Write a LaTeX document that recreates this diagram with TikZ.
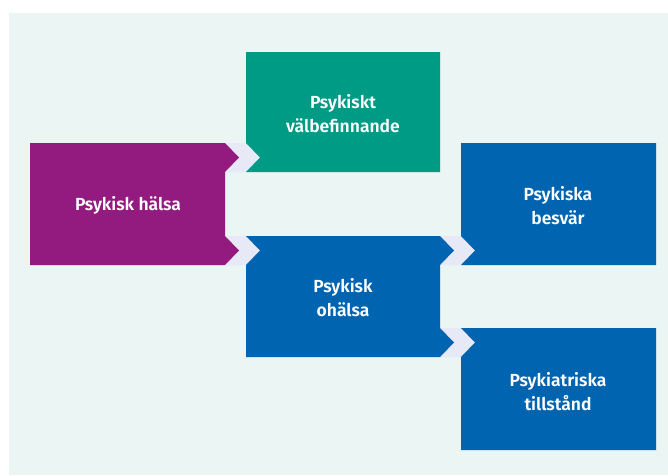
\documentclass[tikz,border=0pt]{standalone}
\usepackage{fontspec}
\setmainfont{Fira Sans}[BoldFont={Fira Sans SemiBold}]
\definecolor{bgmint}{HTML}{EBF5F3}
\definecolor{lav}{HTML}{E8E9F6}
\definecolor{ppurple}{HTML}{931A7E}
\definecolor{pgreen}{HTML}{009B85}
\definecolor{pblue}{HTML}{0064B0}
\tikzset{
  lbl/.style={text=white,font=\fontsize{17.5}{24}\selectfont\bfseries,align=center,inner sep=0pt},
  chev/.style={fill=lav}
}
\begin{document}
\begin{tikzpicture}[x=1pt,y=-1pt]
\useasboundingbox (0,0) rectangle (668,475);
\fill[white] (0,0) rectangle (668,475);
\fill[bgmint] (9,13) rectangle (668,475);
% lavender chevrons
\fill[chev] (225,143)--(246,143)--(260,157.5)--(246,172)--(225,172)--(239,157.5)--cycle;
\fill[chev] (225,236)--(246,236)--(260,250.5)--(246,265)--(225,265)--(239,250.5)--cycle;
\fill[chev] (440,236)--(461,236)--(475,250.5)--(461,265)--(440,265)--(454,250.5)--cycle;
\fill[chev] (440,328)--(461,328)--(475,342.5)--(461,357)--(440,357)--(454,342.5)--cycle;
% boxes
\fill[ppurple] (30,143)--(225,143)--(239,157.5)--(225,172)--(225,236)--(239,250.5)--(225,265)--(30,265)--cycle;
\fill[pgreen] (246,52)--(440,52)--(440,172)--(246,172)--(260,157.5)--(246,143)--cycle;
\fill[pblue] (246,236)--(440,236)--(454,250.5)--(440,265)--(440,328)--(454,342.5)--(440,357)--(246,357)--(246,265)--(260,250.5)--cycle;
\fill[pblue] (461,143)--(656,143)--(656,265)--(461,265)--(475,250.5)--(461,236)--cycle;
\fill[pblue] (461,328)--(656,328)--(656,450)--(461,450)--(461,357)--(475,342.5)--cycle;
% labels
\node[lbl] (halsa) at (128,205) {Psykisk hälsa};
\node[lbl] (valb) at (343,114) {Psykiskt\\välbefinnande};
\node[lbl] (ohalsa) at (343,298) {Psykisk\\ohälsa};
\node[lbl] (besvar) at (558,206) {Psykiska\\besvär};
\node[lbl] (tillst) at (558,392) {Psykiatriska\\tillstånd};
\end{tikzpicture}
\end{document}
